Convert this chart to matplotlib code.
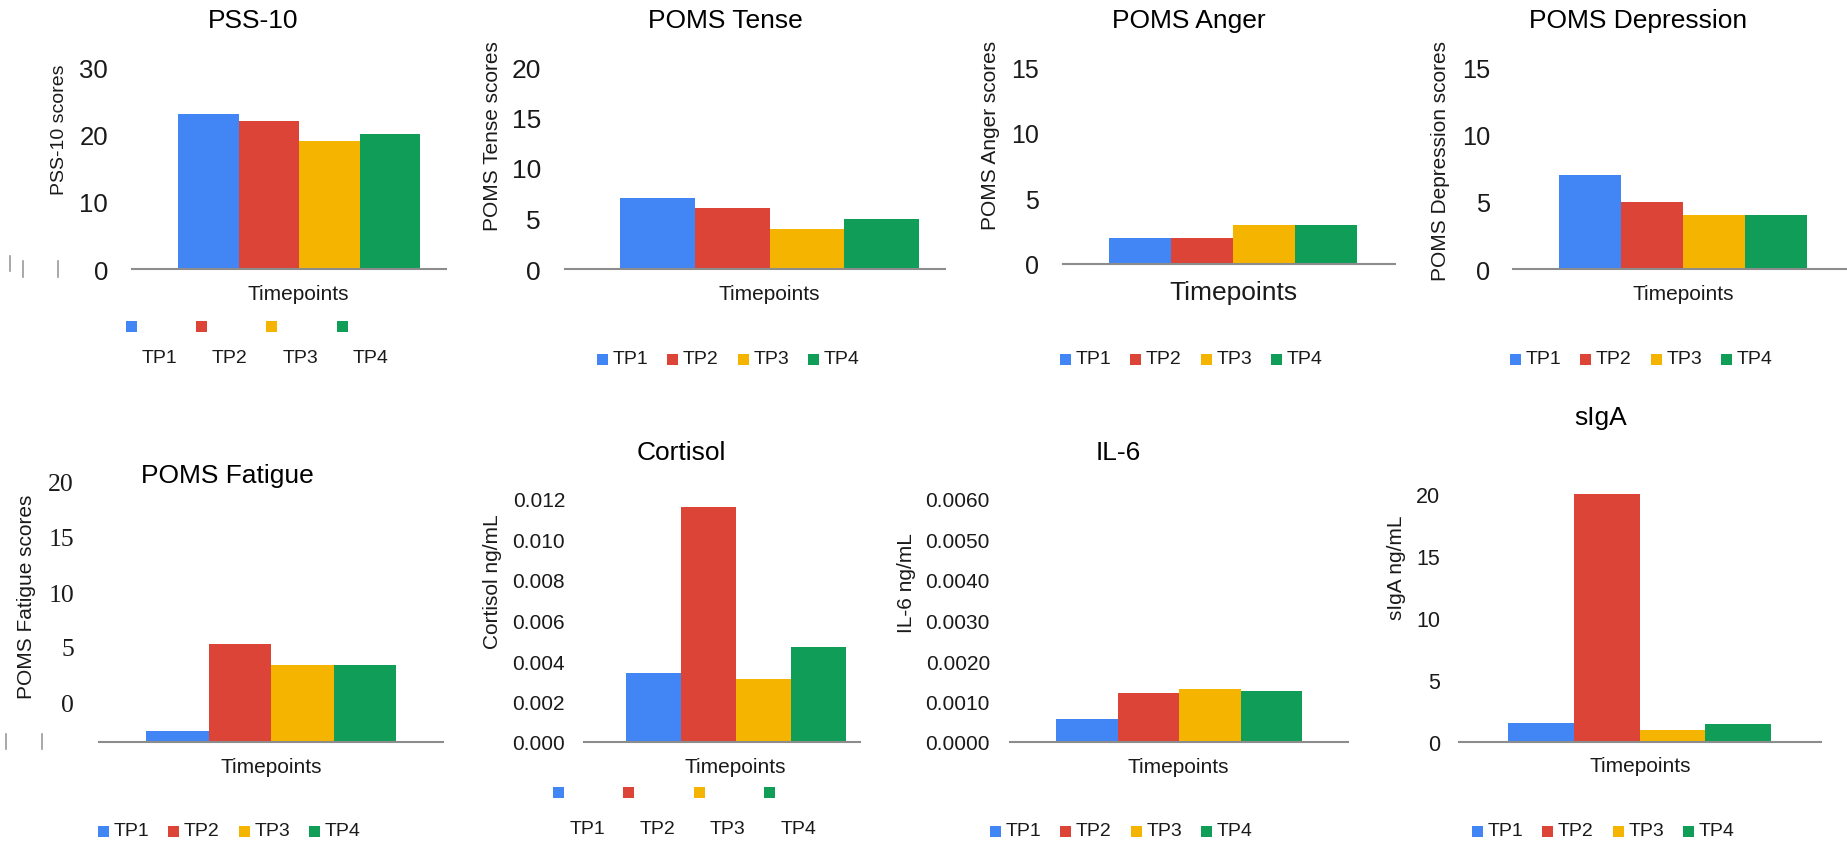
"""Questionnaire scores and salivary markers across four timepoints."""

import numpy as np
import matplotlib
matplotlib.use("Agg")
import matplotlib.pyplot as plt
from matplotlib.patches import Rectangle
from matplotlib.lines import Line2D
from matplotlib.transforms import Affine2D, ScaledTranslation
from matplotlib.ticker import FormatStrFormatter

W, H = 1847, 845

timepoints = ["TP1", "TP2", "TP3", "TP4"]
colors = ["#4285F4", "#DB4437", "#F4B400", "#0F9D58"]

pss10 = [23, 22, 19, 20]
poms_tense = [7, 6, 4, 5]
poms_anger = [2, 2, 3, 3]
poms_depression = [7, 5, 4, 4]
poms_fatigue = [1.0, 8.9, 7.0, 7.0]
cortisol = [0.0034, 0.0116, 0.0031, 0.0047]
il6 = [0.00058, 0.0012, 0.00132, 0.00125]
siga = [1.5, 20.0, 0.95, 1.45]

# layout in pixels: box = (left, right, top of y range, baseline)
panels = [
    dict(title="PSS-10", values=pss10, ylabel="PSS-10 scores",
         ticks=[0, 10, 20, 30], fmt="%d", box=(132, 446, 68, 270), bars=(178, 420),
         title_xy=(253, 21), xlabel_xy=(298, 295), ylabel_xy=(59, 130),
         tick_size=18.5, ylabel_size=14, xlabel_size=15, pad=24,
         legend=("split", 131, 327.5, 358.5)),
    dict(title="POMS Tense", values=poms_tense, ylabel="POMS Tense scores",
         ticks=[0, 5, 10, 15, 20], fmt="%d", box=(565, 945, 68, 270), bars=(620, 919),
         title_xy=(725, 21), xlabel_xy=(769, 295), ylabel_xy=(492, 136),
         tick_size=19, ylabel_size=15, xlabel_size=15, pad=24,
         legend=("row", 602.5, 360)),
    dict(title="POMS Anger", values=poms_anger, ylabel="POMS Anger scores",
         ticks=[0, 5, 10, 15], fmt="%d", box=(1063, 1395, 68, 265), bars=(1109, 1357),
         title_xy=(1189, 21), xlabel_xy=(1233, 293), ylabel_xy=(990, 135),
         tick_size=18, ylabel_size=15, xlabel_size=19, pad=24,
         legend=("row", 1065.5, 360)),
    dict(title="POMS Depression", values=poms_depression, ylabel="POMS Depression scores",
         ticks=[0, 5, 10, 15], fmt="%d", box=(1513, 1847, 68, 270), bars=(1559, 1807),
         title_xy=(1638, 21), xlabel_xy=(1683, 295), ylabel_xy=(1441, 161),
         tick_size=18.3, ylabel_size=15, xlabel_size=15, pad=23,
         legend=("row", 1515.5, 360)),
    dict(title="POMS Fatigue", values=poms_fatigue, ylabel="POMS Fatigue scores",
         ticks=[0, 5, 10, 15, 20], fmt="%d", box=(99, 443, 523, 743), bars=(146, 396),
         title_xy=(227, 476), xlabel_xy=(271, 768), ylabel_xy=(27, 597),
         tick_size=18.5, ylabel_size=15, xlabel_size=15, pad=25,
         tick_family="Liberation Serif", tick_shift=40,
         legend=("row", 103.5, 832)),
    dict(title="Cortisol", values=cortisol, ylabel="Cortisol ng/mL",
         ticks=list(np.arange(0, 0.0121, 0.002)), fmt="%.3f", box=(584, 860, 500, 743),
         bars=(626, 846), title_xy=(681, 453), xlabel_xy=(735, 768), ylabel_xy=(492, 582),
         tick_size=15, ylabel_size=15, xlabel_size=15, pad=19,
         legend=("split", 558.5, 793.5, 830)),
    dict(title="IL-6", values=il6, ylabel="IL-6 ng/mL",
         ticks=list(np.arange(0, 0.00601, 0.001)), fmt="%.4f", box=(1010, 1348, 500, 743),
         bars=(1056, 1302), title_xy=(1118, 453), xlabel_xy=(1178, 768), ylabel_xy=(906, 583),
         tick_size=15, ylabel_size=15, xlabel_size=15, pad=20,
         legend=("row", 995.5, 832)),
    dict(title="sIgA", values=siga, ylabel="sIgA ng/mL",
         ticks=[0, 5, 10, 15, 20], fmt="%d", box=(1459, 1821, 495, 743), bars=(1508, 1771),
         title_xy=(1601, 418), xlabel_xy=(1640, 767), ylabel_xy=(1397, 568),
         tick_size=15.5, ylabel_size=15, xlabel_size=15, pad=19,
         legend=("row", 1477.5, 832)),
]

plt.rcParams["font.family"] = ["Liberation Sans", "DejaVu Sans"]
TEXT = "#1a1a1a"
AXIS = "#8c8c8c"

fig = plt.figure(figsize=(W / 100, H / 100), dpi=100)
pix = Affine2D().scale(1 / W, -1 / H).translate(0, 1) + fig.transFigure


def frac(box, x, y):
    left, right, top, base = box
    return (x - left) / (right - left), (base - y) / (base - top)


def draw_legend(spec):
    kind, x0, y = spec[:3]
    for i, (name, c) in enumerate(zip(timepoints, colors)):
        cx = x0 + i * 70.4
        fig.add_artist(Rectangle((cx - 5.5, y - 5.5), 11, 11, facecolor=c,
                                 linewidth=0, transform=pix))
        if kind == "split":
            fig.text(cx + 28.5, spec[3], name, transform=pix, ha="center",
                     va="center", fontsize=14, color=TEXT)
        else:
            fig.text(cx + 10, y, name, transform=pix, ha="left",
                     va="center", fontsize=14, color=TEXT)


for p in panels:
    left, right, top, base = p["box"]
    ax = fig.add_axes([left / W, 1 - base / H, (right - left) / W, (base - top) / H])
    b0, b1 = p["bars"]
    w = (b1 - b0) / 4
    ax.bar(np.arange(4), p["values"], width=1, align="edge", color=colors, linewidth=0)
    ax.set_xlim(-(b0 - left) / w, 4 + (right - b1) / w)
    ax.set_ylim(0, p["ticks"][-1])

    for side in ("top", "right", "left"):
        ax.spines[side].set_visible(False)
    ax.spines["bottom"].set_color(AXIS)
    ax.spines["bottom"].set_linewidth(1.5)
    ax.set_xticks([])
    ax.set_yticks(p["ticks"])
    ax.yaxis.set_major_formatter(FormatStrFormatter(p["fmt"]))
    ax.tick_params(axis="y", length=0, pad=p["pad"] * 0.72,
                   labelsize=p["tick_size"], labelcolor=TEXT)
    if "tick_family" in p:
        shift = ScaledTranslation(0, p["tick_shift"] / 100, fig.dpi_scale_trans)
        for lbl in ax.get_yticklabels():
            lbl.set_fontfamily(p["tick_family"])
            lbl.set_transform(lbl.get_transform() + shift)

    tx, ty = frac(p["box"], *p["title_xy"])
    ax.set_title(p["title"], fontsize=19, x=tx, y=ty, pad=0, va="center", color="black")
    ax.set_xlabel("Timepoints", fontsize=p["xlabel_size"], va="center", color=TEXT)
    ax.xaxis.set_label_coords(*frac(p["box"], *p["xlabel_xy"]))
    ax.set_ylabel(p["ylabel"], fontsize=p["ylabel_size"], va="center", color=TEXT)
    ax.yaxis.set_label_coords(*frac(p["box"], *p["ylabel_xy"]))

    draw_legend(p["legend"])

# stray tick marks left of the first column
for x, y0, y1 in [(10, 257, 272), (23, 262, 278), (58, 262, 278), (6, 735, 750), (42, 735, 750)]:
    fig.add_artist(Line2D([x, x], [y0, y1], color="#9a9a9a", linewidth=1.2, transform=pix))

fig.savefig("out.png", dpi=100, facecolor="white")
